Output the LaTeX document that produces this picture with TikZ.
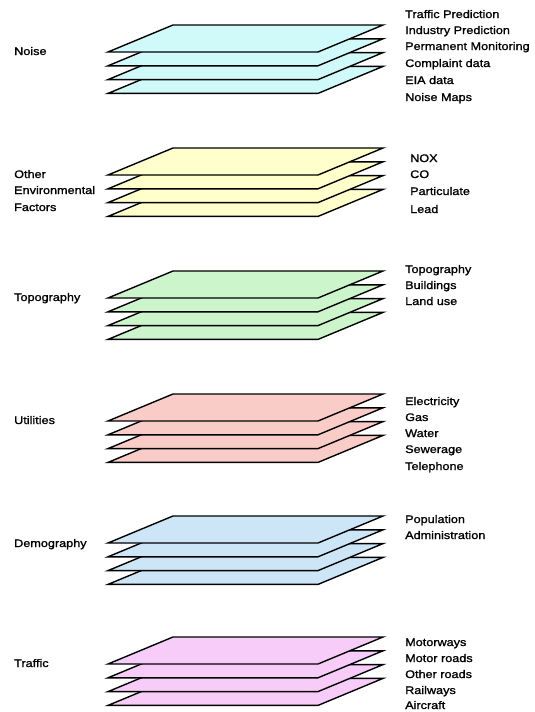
\documentclass[tikz,border=0pt]{standalone}
\usepackage{fontspec}
\newfontfamily\lblfont[FakeStretch=1.15,FakeBold=1.2]{Liberation Sans}
\definecolor{noisec}{RGB}{208,250,250}
\definecolor{envc}{RGB}{255,255,204}
\definecolor{topoc}{RGB}{204,245,204}
\definecolor{utilc}{RGB}{250,204,200}
\definecolor{democ}{RGB}{204,230,248}
\definecolor{trafc}{RGB}{248,204,248}
\begin{document}
\begin{tikzpicture}[x=1pt,y=-1pt,
  layer/.style={draw=black, line width=1.4pt},
  lbl/.style={font=\lblfont\fontsize{11}{13}\selectfont, anchor=west, inner sep=0pt, text height=8pt, text depth=2pt}]
\useasboundingbox (0,0) rectangle (535,712);
\fill[white] (0,0) rectangle (535,712);
\foreach \b/\c in {25/noisec,148/envc,271/topoc,394/utilc,516/democ,637/trafc}{
  \foreach \i in {3,2,1,0}{
    \pgfmathsetmacro\f{\b+27+13.8*\i}
    \filldraw[layer, fill=\c] (108,\f) -- (318,\f) -- (383,\f-27) -- (173,\f-27) -- cycle;
  }
}
% left labels
\node[lbl] (noiseL) at (14,52) {Noise};
\node[lbl] (envL1) at (14,175) {Other};
\node[lbl] (envL2) at (14,191) {Environmental};
\node[lbl] (envL3) at (14,208) {Factors};
\node[lbl] (topoL) at (14,298) {Topography};
\node[lbl] (utilL) at (14,421) {Utilities};
\node[lbl] (demoL) at (14,544) {Demography};
\node[lbl] (trafL) at (14,664) {Traffic};
% right labels
\node[lbl] (n1) at (405,15) {Traffic Prediction};
\node[lbl] (n2) at (405,31) {Industry Prediction};
\node[lbl] (n3) at (405,47) {Permanent Monitoring};
\node[lbl] (n4) at (405,64) {Complaint data};
\node[lbl] (n5) at (405,81) {EIA data};
\node[lbl] (n6) at (405,98) {Noise Maps};
\node[lbl] (e1) at (410,159) {NOX};
\node[lbl] (e2) at (410,175) {CO};
\node[lbl] (e3) at (410,192) {Particulate};
\node[lbl] (e4) at (410,210) {Lead};
\node[lbl] (t1) at (405,270) {Topography};
\node[lbl] (t2) at (405,286) {Buildings};
\node[lbl] (t3) at (405,302) {Land use};
\node[lbl] (u1) at (405,402) {Electricity};
\node[lbl] (u2) at (405,418) {Gas};
\node[lbl] (u3) at (405,434) {Water};
\node[lbl] (u4) at (405,450) {Sewerage};
\node[lbl] (u5) at (405,467) {Telephone};
\node[lbl] (d1) at (405,520) {Population};
\node[lbl] (d2) at (405,536) {Administration};
\node[lbl] (r1) at (405,643) {Motorways};
\node[lbl] (r2) at (405,659) {Motor roads};
\node[lbl] (r3) at (405,675) {Other roads};
\node[lbl] (r4) at (405,691) {Railways};
\node[lbl] (r5) at (405,706) {Aircraft};
\end{tikzpicture}
\end{document}
